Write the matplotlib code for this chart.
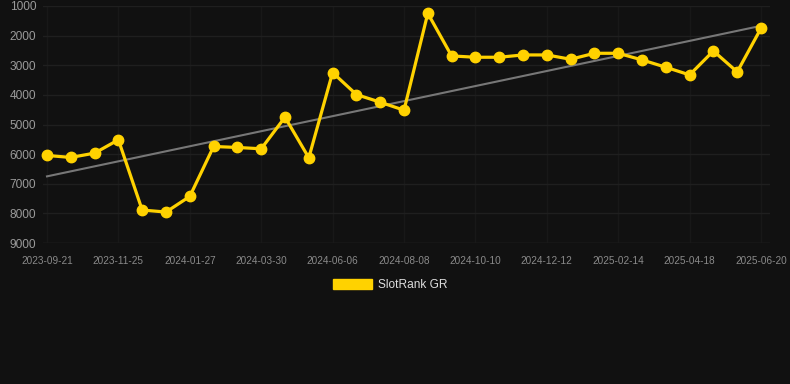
"""SlotRank GR rank history with linear trend, dark theme."""

import matplotlib

matplotlib.use("Agg")
import matplotlib.pyplot as plt
import numpy as np
from matplotlib.patches import Patch

# rank per sample (lower is better, y axis is inverted)
rank_values = [
    6045, 6112, 5966, 5517, 7888, 7955, 7427, 5742, 5775, 5820,
    4753, 6124, 3247, 3989, 4247, 4517, 1247, 2685, 2730, 2730,
    2652, 2652, 2798, 2596, 2596, 2820, 3067, 3326, 2517, 3225,
    1753,
]
tick_labels = [
    "2023-09-21", "2023-11-25", "2024-01-27", "2024-03-30", "2024-06-06",
    "2024-08-08", "2024-10-10", "2024-12-12", "2025-02-14", "2025-04-18",
    "2025-06-20",
]
y_ticks = [1000, 2000, 3000, 4000, 5000, 6000, 7000, 8000, 9000]
series_name = "SlotRank GR"

BG = "#111111"
GOLD = "#FFD200"

plt.rcParams["font.family"] = ["Liberation Sans", "DejaVu Sans"]

W, H = 790, 384
fig = plt.figure(figsize=(W / 100, H / 100), dpi=100, facecolor=BG)

# axes placed in pixels: left 43, right 770, top 6, bottom 243
left_px, right_px, top_px, bottom_px = 43, 770, 6, 243
ax = fig.add_axes(
    [left_px / W, 1 - bottom_px / H, (right_px - left_px) / W, (bottom_px - top_px) / H]
)
ax.set_facecolor(BG)

x = np.arange(len(rank_values))
step = (761 - 47) / (len(rank_values) - 1)
ax.set_xlim(-(47 - left_px) / step, (len(rank_values) - 1) + (right_px - 761) / step)
ax.set_ylim(9000, 1000)

# trend line from least squares fit
slope, intercept = np.polyfit(x, rank_values, 1)
ax.plot(x[[0, -1]], slope * x[[0, -1]] + intercept, color="#777777", linewidth=1.5, zorder=2)

ax.plot(
    x,
    rank_values,
    color=GOLD,
    linewidth=2.3,
    marker="o",
    markersize=7.5,
    markerfacecolor=GOLD,
    markeredgecolor=GOLD,
    zorder=3,
    clip_on=False,
)

tick_pos = list(range(0, len(rank_values), 3))
ax.set_xticks(tick_pos)
ax.set_xticklabels(tick_labels)
ax.set_yticks(y_ticks)
ax.set_yticklabels([str(v) for v in y_ticks])

ax.grid(True, axis="y", color="#1f1f1f", linewidth=1.0, zorder=0)
ax.grid(True, axis="x", color="#181818", linewidth=1.0, zorder=0)
for spine in ax.spines.values():
    spine.set_visible(False)
ax.axhline(9000, color="#2a2a2a", linewidth=1.0, zorder=1)

ax.tick_params(axis="x", colors="#8a8a8a", labelsize=7.2, length=0, pad=9)
ax.tick_params(axis="y", colors="#9a9a9a", labelsize=8.6, length=0, pad=5)

fig.legend(
    handles=[Patch(facecolor=GOLD, edgecolor=GOLD, label=series_name)],
    loc="center",
    bbox_to_anchor=(390 / W, 1 - 285 / H),
    frameon=False,
    fontsize=8.6,
    labelcolor="#dddddd",
    handlelength=3.3,
    handleheight=1.0,
    handletextpad=0.5,
)

fig.savefig("out.png", dpi=100, facecolor=BG)
